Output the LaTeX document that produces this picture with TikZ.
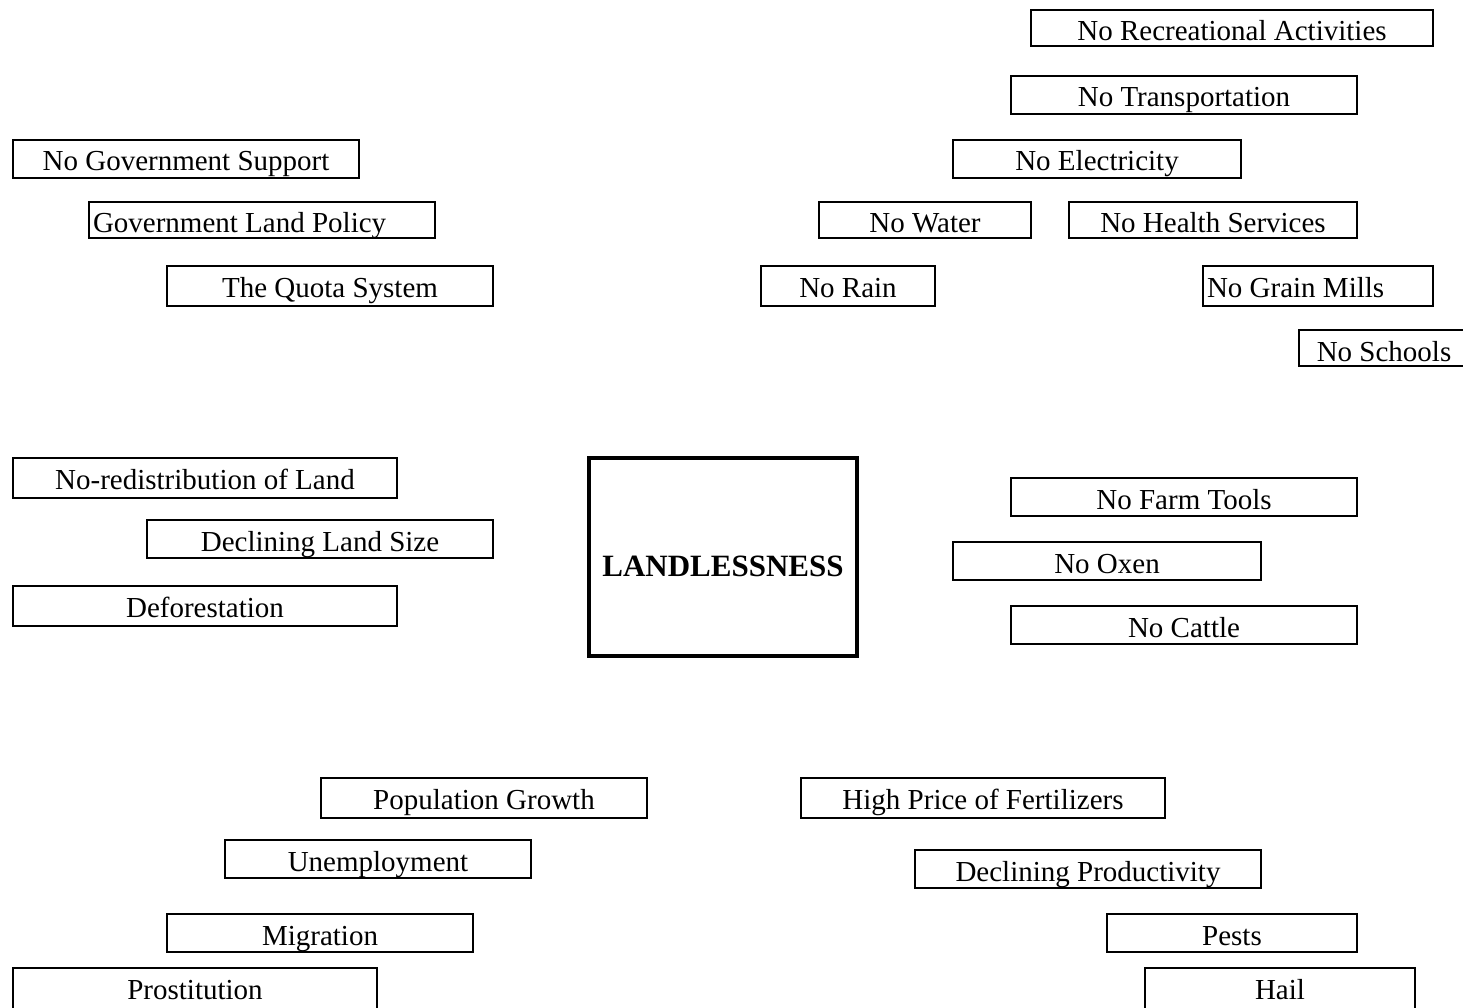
\documentclass[tikz,border=0pt]{standalone}
\usepackage{fontspec}
\setmainfont{Liberation Serif}
\tikzset{
  box/.style={draw=black, line width=1.6pt, rectangle, inner sep=0pt, text depth=4pt,
    font=\fontsize{29}{34}\selectfont},
  lft/.style={text width=\tw pt, align=flush left, inner xsep=4pt},
  core/.style={draw=black, line width=4.5pt, rectangle, inner sep=0pt, text depth=4pt,
    font=\fontsize{31}{36}\selectfont\bfseries}
}
% \bx[opts]{name}{x1}{y1}{x2}{y2}{text}
\newcommand\bx[7][]{%
  \pgfmathsetmacro\cx{(#3+#5)/2}%
  \pgfmathsetmacro\cy{(#4+#6)/2}%
  \pgfmathsetmacro\w{#5-#3}%
  \pgfmathsetmacro\h{#6-#4}%
  \pgfmathsetmacro\th{66-\h}%
  \pgfmathsetmacro\tw{\w-8}%
  \node[box, minimum width=\w pt, minimum height=\h pt, text height=\th pt, #1] (#2) at (\cx,\cy) {#7};%
}
\begin{document}
\begin{tikzpicture}[x=1pt,y=-1pt]
\useasboundingbox (0,0) rectangle (1463,1008);
\clip (0,0) rectangle (1463,1008);
\fill[white] (0,0) rectangle (1463,1008);
% top right
\bx{recre}{1031}{10}{1433}{46}{No Recreational Activities}
\bx{transp}{1011}{76}{1357}{114}{No Transportation}
\bx{elec}{953}{140}{1241}{178}{No Electricity}
\bx{water}{819}{202}{1031}{238}{No Water}
\bx{health}{1069}{202}{1357}{238}{No Health Services}
\bx{rain}{761}{266}{935}{306}{No Rain}
\bx[lft]{grain}{1203}{266}{1433}{306}{No Grain Mills}
\bx{schools}{1299}{330}{1469}{366}{No Schools}
% top left
\bx{govsup}{13}{140}{359}{178}{No Government Support}
\bx[lft]{landpol}{89}{202}{435}{238}{Government Land Policy}
\bx{quota}{167}{266}{493}{306}{The Quota System}
% middle left
\bx{noredis}{13}{458}{397}{498}{No-redistribution of Land}
\bx{decland}{147}{520}{493}{558}{Declining Land Size}
\bx{defor}{13}{586}{397}{626}{Deforestation}
% centre
\node[core, minimum width=268pt, minimum height=198pt, text height=42pt] (land) at (723,557) {LANDLESSNESS};
% middle right
\bx{farm}{1011}{478}{1357}{516}{No Farm Tools}
\bx{oxen}{953}{542}{1261}{580}{No Oxen}
\bx{cattle}{1011}{606}{1357}{644}{No Cattle}
% bottom left
\bx{popgr}{321}{778}{647}{818}{Population Growth}
\bx{unemp}{225}{840}{531}{878}{Unemployment}
\bx{migr}{167}{914}{473}{952}{Migration}
\bx{prost}{13}{968}{377}{1030}{Prostitution}
% bottom right
\bx{highp}{801}{778}{1165}{818}{High Price of Fertilizers}
\bx{declprod}{915}{850}{1261}{888}{Declining Productivity}
\bx{pests}{1107}{914}{1357}{952}{Pests}
\bx{hail}{1145}{968}{1415}{1030}{Hail}
\end{tikzpicture}
\end{document}
